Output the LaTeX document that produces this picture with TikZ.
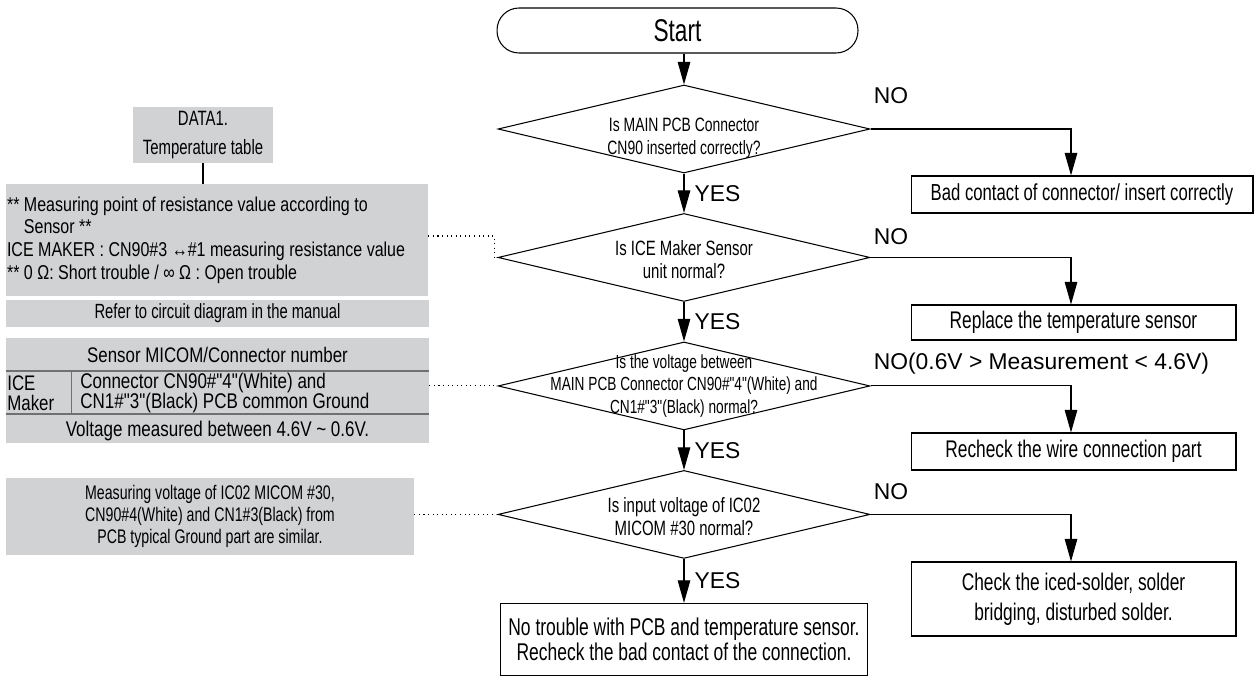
\documentclass[tikz,border=0pt]{standalone}
\usepackage{fontspec}
\setmainfont{Liberation Sans}
\newfontfamily\narrowfont[FakeStretch=0.72]{Liberation Sans}
\newfontfamily\semifont[FakeStretch=0.8]{Liberation Sans}
\usetikzlibrary{shapes.geometric}
\usetikzlibrary{arrows.meta}
\usetikzlibrary{positioning}
\definecolor{panelgray}{RGB}{209,210,212}
\definecolor{rulegray}{RGB}{112,112,114}
\tikzset{
	terminal/.style={rectangle, draw, line width=0.6pt, rounded corners=0.44cm, minimum width=7.22cm, minimum height=0.9cm, inner sep=0pt, font=\narrowfont\fontsize{17.9}{20}\selectfont},
	decision/.style={diamond, draw, line width=0.6pt, inner sep=0pt, minimum width=7.44cm, minimum height=1.76cm},
	question/.style={align=center, inner sep=0pt, font=\narrowfont\fontsize{11.3}{13}\selectfont},
	action/.style={rectangle, draw, line width=0.6pt, align=center, inner sep=0pt, minimum width=6.5cm, minimum height=0.72cm, font=\narrowfont\fontsize{13.7}{17}\selectfont},
	note/.style={rectangle, fill=panelgray, inner sep=0pt, align=center},
	answer/.style={inner sep=0pt, font=\fontsize{13}{15}\selectfont},
	arrow/.style={draw, -{Triangle[length=0.45cm, width=0.25cm]}, line width=0.6pt},
	dotline/.style={draw, dotted, line width=0.6pt},
	tabrule/.style={draw=rulegray, line width=0.8pt}
}

\begin{document}
\begin{tikzpicture}[x=0.02cm, y=-0.02cm, node distance=2.57cm]
\useasboundingbox (0,0) rectangle (1254,676);

% main flow
\node[terminal] (start) at (677.5,30.5) {Start};

\node[decision, label={[question, yshift=-0.18cm, font=\narrowfont\fontsize{11}{13}\selectfont]center:{Is MAIN PCB Connector\\CN90 inserted correctly?}}] (checkcn) at (684,129) {};

\node[decision, below of = checkcn, label={[question, yshift=-0.04cm, font=\narrowfont\fontsize{11.8}{13}\selectfont]center:{Is ICE Maker Sensor\\unit normal?}}] (checksensor) {};

\node[decision, below of = checksensor, label={[question, font=\narrowfont\fontsize{10.8}{12.6}\selectfont]center:{Is the voltage between\\MAIN PCB Connector CN90\#"4"(White) and\\CN1\#"3"(Black) normal?}}] (checkvolt) {};

\node[decision, below of = checkvolt, label={[question, yshift=-0.05cm, font=\narrowfont\fontsize{11.8}{13}\selectfont]center:{Is input voltage of IC02\\MICOM \#30 normal?}}] (checkmicom) {};

\node[action, below of = checkmicom, node distance=2.5cm, minimum width=7.34cm, minimum height=1.44cm, font=\narrowfont\fontsize{13.8}{13.8}\selectfont] (notrouble)
	{No trouble with PCB and temperature sensor.\\Recheck the bad contact of the connection.};

% answers for NO
\node[action, minimum width=6.84cm, minimum height=0.74cm, font=\narrowfont\fontsize{13.2}{15}\selectfont] (badcontact) at (1082,194.5)
	{Bad contact of connector/ insert correctly};
\node[action, minimum width=6.5cm, minimum height=0.7cm] (replace) at (1073.5,322.5)
	{Replace the temperature sensor};
\node[action, minimum width=6.5cm, minimum height=0.74cm] (recheck) at (1073.5,451.5)
	{Recheck the wire connection part};
\node[action, minimum width=6.5cm, minimum height=1.48cm] (solder) at (1073.5,599)
	{Check the iced-solder, solder\\bridging, disturbed solder.};

\node[answer, anchor=base west] (no1) at ([xshift=0.06cm, yshift=0.52cm]checkcn.east) {NO};
\node[answer, anchor=base west] (no2) at ([xshift=0.06cm, yshift=0.26cm]checksensor.east) {NO};
\node[answer, anchor=base west] (no3) at ([xshift=0.06cm, yshift=0.32cm]checkvolt.east) {NO(0.6V > Measurement < 4.6V)};
\node[answer, anchor=base west] (no4) at ([xshift=0.06cm, yshift=0.3cm]checkmicom.east) {NO};

% left data panel
\node[note, minimum width=2.8cm, minimum height=1.12cm, font=\narrowfont\fontsize{11.8}{17}\selectfont] (data) at (203,135)
	{DATA1.\\Temperature table};

\node[note, align=flush left, text width=8.4cm, inner xsep=0.02cm, minimum height=2.24cm, font=\semifont\fontsize{11.4}{12.9}\selectfont] (measpoint) at (217,240)
	{** Measuring point of resistance value according to\\{}%
	\hphantom{** }Sensor **\\{}%
	ICE MAKER : CN90\#3 ↔\#1 measuring resistance value\\{}%
	** 0 Ω: Short trouble / ∞ Ω : Open trouble};

\node[note, minimum width=8.46cm, minimum height=0.54cm, font=\narrowfont\fontsize{11.7}{13}\selectfont] (refer) at (217.5,313.5)
	{Refer to circuit diagram in the manual};

\node[note, minimum width=8.46cm, minimum height=2.1cm] (sensortab) at (217.5,390.5) {};
\node[inner sep=0pt, font=\semifont\fontsize{12}{13}\selectfont] (tabhead) at (217.5,355)
	{Sensor MICOM/Connector number};
\node[inner sep=0pt, anchor=west, align=left, font=\semifont\fontsize{12}{11.4}\selectfont] (tabice) at (7,393)
	{ICE\\Maker};
\node[inner sep=0pt, anchor=west, align=left, font=\semifont\fontsize{12.1}{11.4}\selectfont] (tabconn) at (80,393)
	{Connector CN90\#"4"(White) and\\CN1\#"3"(Black) PCB common Ground};
\node[inner sep=0pt, font=\semifont\fontsize{12.1}{13}\selectfont] (tabvolt) at (217.5,431)
	{Voltage measured between 4.6V \textasciitilde{} 0.6V.};

\node[note, minimum width=8.16cm, minimum height=1.54cm, font=\narrowfont\fontsize{11.2}{12.5}\selectfont] (micomvolt) at (210,516.5)
	{Measuring voltage of IC02 MICOM \#30,\\CN90\#4(White) and CN1\#3(Black) from\\PCB typical Ground part are similar.};

% connectors
\draw [arrow] (checkcn.north |- start.south) -- (checkcn.north);
\draw [arrow] (checkcn) -- node[answer, right=0.2cm] (yes1) {YES} (checksensor);
\draw [arrow] (checksensor) -- node[answer, right=0.2cm] (yes2) {YES} (checkvolt);
\draw [arrow] (checkvolt) -- node[answer, right=0.2cm] (yes3) {YES} (checkmicom);
\draw [arrow] (checkmicom) -- node[answer, right=0.2cm] (yes4) {YES} (notrouble);

\draw [arrow] (checkcn.east) -| ([xshift=-0.22cm]badcontact.north);
\draw [arrow] (checksensor.east) -| ([xshift=-0.05cm]replace.north);
\draw [arrow] (checkvolt.east) -| ([xshift=-0.05cm]recheck.north);
\draw [arrow] (checkmicom.east) -| ([xshift=-0.05cm]solder.north);

\draw [line width=0.6pt] (data.south) -- (data.south |- measpoint.north);
\draw [tabrule] (sensortab.west |- 0,371) -- (sensortab.east |- 0,371);
\draw [tabrule] (sensortab.west |- 0,414) -- (sensortab.east |- 0,414);
\draw [draw=rulegray, line width=0.5pt] (71,371) -- (71,414);

\draw [dotline] ([yshift=0.08cm]measpoint.east) -- ++(66,0) |- (checksensor.west);
\draw [dotline] (sensortab.east |- checkvolt.west) -- (checkvolt.west);
\draw [dotline] (micomvolt.east |- checkmicom.west) -- (checkmicom.west);

\end{tikzpicture}
\end{document}
